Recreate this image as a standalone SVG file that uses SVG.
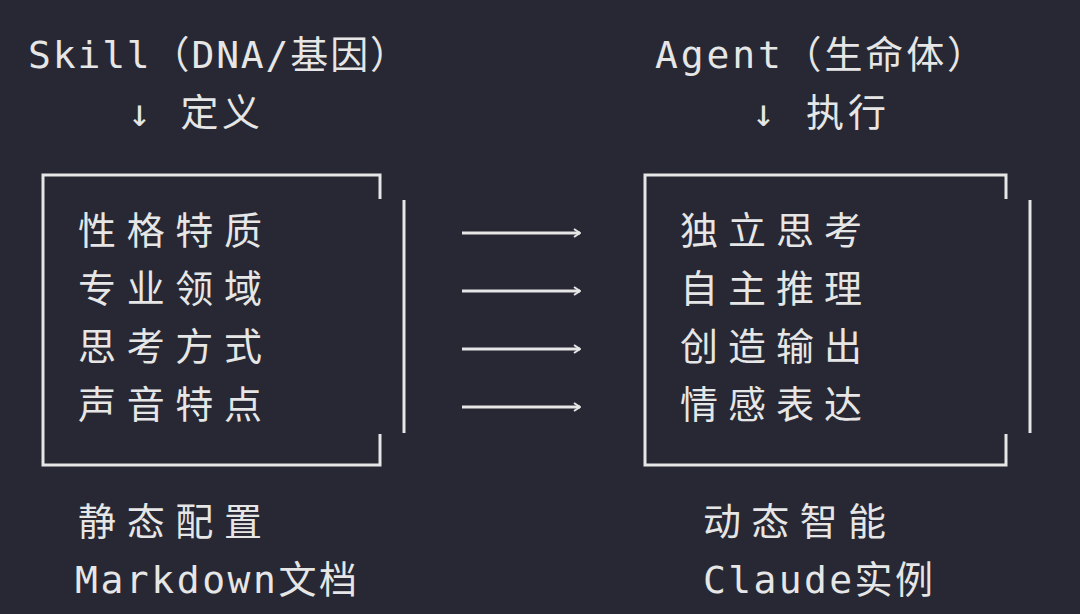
<svg xmlns="http://www.w3.org/2000/svg" width="1080" height="614" viewBox="0 0 1080 614">
<style>
text{font-family:"DejaVu Sans Mono","Noto Sans CJK SC",monospace;font-size:38px;fill:#e6e6e6}
.ln{stroke:#e6e6e6;stroke-width:3;fill:none}
</style>
<defs><marker id="ah" markerWidth="8" markerHeight="10" refX="7" refY="5" orient="auto" markerUnits="userSpaceOnUse"><path d="M1,1 L7,5 L1,9" fill="none" stroke="#e6e6e6" stroke-width="2"/></marker></defs>
<rect width="1080" height="614" fill="#272833"/>
<g id="skill">
<text x="28" y="68" textLength="380" lengthAdjust="spacing">Skill（DNA/基因）</text>
<text x="128" y="126" textLength="132" lengthAdjust="spacing">↓ 定义</text>
<path class="ln" d="M380,199 V175 H43 V465 H380 V434"/>
<line class="ln" x1="404" y1="200" x2="404" y2="433"/>
<text x="78" y="244" textLength="184" lengthAdjust="spacing">性格特质</text>
<text x="78" y="302" textLength="184" lengthAdjust="spacing">专业领域</text>
<text x="78" y="360" textLength="184" lengthAdjust="spacing">思考方式</text>
<text x="78" y="418" textLength="184" lengthAdjust="spacing">声音特点</text>
<text x="78" y="535" textLength="184" lengthAdjust="spacing">静态配置</text>
<text x="75" y="593" textLength="282" lengthAdjust="spacing">Markdown文档</text>
</g>
<g id="agent">
<text x="655" y="68" textLength="330" lengthAdjust="spacing">Agent（生命体）</text>
<text x="752" y="126" textLength="134" lengthAdjust="spacing">↓ 执行</text>
<path class="ln" d="M1006,199 V175 H645 V465 H1006 V434"/>
<line class="ln" x1="1030" y1="200" x2="1030" y2="433"/>
<text x="680" y="244" textLength="182" lengthAdjust="spacing">独立思考</text>
<text x="680" y="302" textLength="182" lengthAdjust="spacing">自主推理</text>
<text x="680" y="360" textLength="182" lengthAdjust="spacing">创造输出</text>
<text x="680" y="418" textLength="182" lengthAdjust="spacing">情感表达</text>
<text x="703" y="535" textLength="183" lengthAdjust="spacing">动态智能</text>
<text x="703" y="593" textLength="230" lengthAdjust="spacing">Claude实例</text>
</g>
<g id="connectors">
<line class="ln" x1="462" y1="233" x2="580" y2="233" marker-end="url(#ah)"/>
<line class="ln" x1="462" y1="291" x2="580" y2="291" marker-end="url(#ah)"/>
<line class="ln" x1="462" y1="349" x2="580" y2="349" marker-end="url(#ah)"/>
<line class="ln" x1="462" y1="407" x2="580" y2="407" marker-end="url(#ah)"/>
</g>
</svg>
